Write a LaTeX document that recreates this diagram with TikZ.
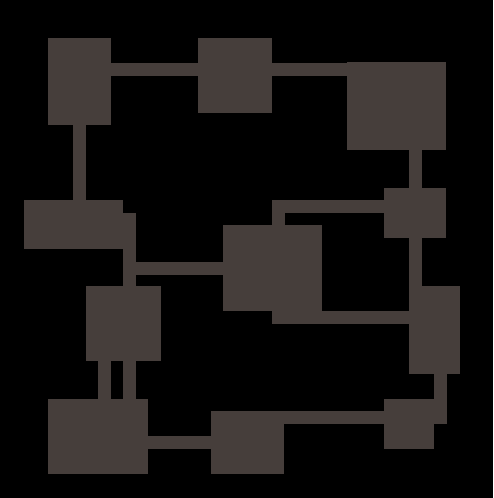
\documentclass[tikz,border=0pt]{standalone}
\definecolor{blockgray}{HTML}{463E3B}
\begin{document}
\begin{tikzpicture}[x=1pt,y=-1pt,
    block/.style 2 args={fill=blockgray, inner sep=0pt, outer sep=0pt,
        minimum width=#1pt, minimum height=#2pt},
    wire/.style={draw=blockgray, line width=13pt}]
    % Background
    \fill[black] (0,0) rectangle (493,498);
    \useasboundingbox (0,0) rectangle (493,498);

    % Blocks
    \node[block={63}{87}] (A) at (79.5,81.5) {};
    \node[block={74}{75}] (B) at (235,75.5) {};
    \node[block={99}{88}] (C) at (396.5,106) {};
    \node[block={99}{49}] (D) at (73.5,224.5) {};
    \node[block={99}{86}] (E) at (272.5,268) {};
    \node[block={75}{75}] (F) at (123.5,323.5) {};
    \node[block={62}{50}] (G) at (415,213) {};
    \node[block={51}{88}] (H) at (434.5,330) {};
    \node[block={50}{50}] (I) at (409,424) {};
    \node[block={73}{63}] (J) at (247.5,442.5) {};
    \node[block={100}{75}] (K) at (98,436.5) {};

    % Top row
    \draw[wire] ([yshift=12.5pt]A.east) -- ([yshift=6.5pt]B.west);
    \draw[wire] ([yshift=6.5pt]B.east) -- ([yshift=37pt]C.west);

    % Left side
    \draw[wire] (A.south) -- ([xshift=6pt]D.north);
    \draw[wire] ([yshift=5pt]D.east) -| ([xshift=6pt]F.north);
    \draw[wire] (E.west) -- (E.west -| F.north);
    \draw[wire] ([xshift=-19pt]F.south) -- ([xshift=6.5pt]K.north);
    \draw[wire] ([xshift=6pt]F.south) -- ([xshift=31.5pt]K.north);

    % Right side
    \draw[wire] ([xshift=19pt]C.south) -- ([xshift=0.5pt]G.north);
    \draw[wire] ([xshift=0.5pt]G.south) -- ([xshift=-19pt]H.north);
    \draw[wire] ([yshift=6.5pt]G.west) -| ([xshift=6pt]E.north);
    \draw[wire] ([xshift=6pt]E.south) |- ([yshift=12.5pt]H.west);
    \draw[wire] ([xshift=5.5pt]H.south) -- ([xshift=6pt]I.east);

    % Bottom row
    \draw[wire] ([yshift=25pt]J.east) -- ([yshift=6.5pt]I.west);
    \draw[wire] ([yshift=-6pt]K.east) -- (J.west);
\end{tikzpicture}
\end{document}
